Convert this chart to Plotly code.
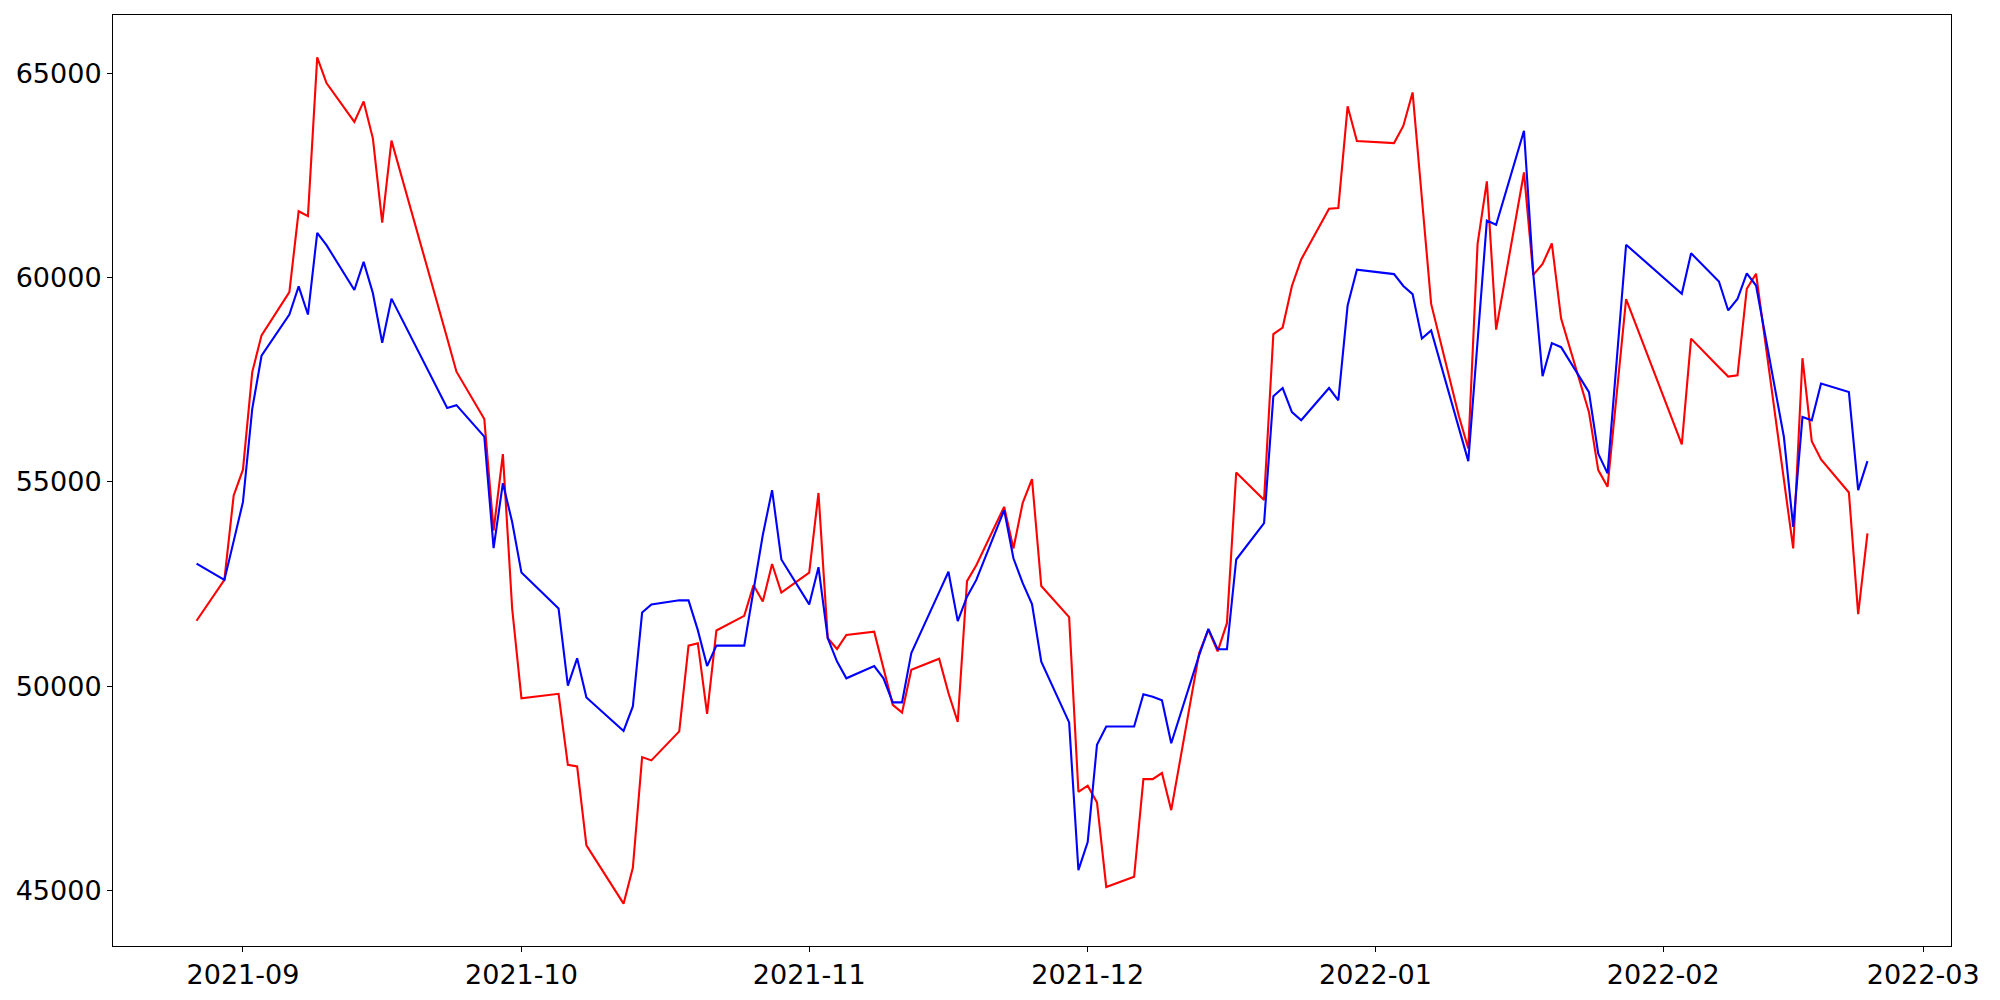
import plotly.graph_objects as go
import pandas as pd

dates = [
    "2021-08-27", "2021-08-30", "2021-08-31",
    "2021-09-01", "2021-09-02", "2021-09-03", "2021-09-06", "2021-09-07", "2021-09-08", "2021-09-09",
    "2021-09-10", "2021-09-13", "2021-09-14", "2021-09-15", "2021-09-16", "2021-09-17", "2021-09-23",
    "2021-09-24", "2021-09-27", "2021-09-28", "2021-09-29", "2021-09-30",
    "2021-10-01", "2021-10-05", "2021-10-06", "2021-10-07", "2021-10-08", "2021-10-12", "2021-10-13",
    "2021-10-14", "2021-10-15", "2021-10-18", "2021-10-19", "2021-10-20", "2021-10-21", "2021-10-22",
    "2021-10-25", "2021-10-26", "2021-10-27", "2021-10-28", "2021-10-29",
    "2021-11-01", "2021-11-02", "2021-11-03", "2021-11-04", "2021-11-05", "2021-11-08", "2021-11-09",
    "2021-11-10", "2021-11-11", "2021-11-12", "2021-11-15", "2021-11-16", "2021-11-17", "2021-11-18",
    "2021-11-19", "2021-11-22", "2021-11-23", "2021-11-24", "2021-11-25", "2021-11-26", "2021-11-29",
    "2021-11-30",
    "2021-12-01", "2021-12-02", "2021-12-03", "2021-12-06", "2021-12-07", "2021-12-08", "2021-12-09",
    "2021-12-10", "2021-12-13", "2021-12-14", "2021-12-15", "2021-12-16", "2021-12-17", "2021-12-20",
    "2021-12-21", "2021-12-22", "2021-12-23", "2021-12-24", "2021-12-27", "2021-12-28", "2021-12-29",
    "2021-12-30",
    "2022-01-03", "2022-01-04", "2022-01-05", "2022-01-06", "2022-01-07", "2022-01-10", "2022-01-11",
    "2022-01-12", "2022-01-13", "2022-01-14", "2022-01-17", "2022-01-18", "2022-01-19", "2022-01-20",
    "2022-01-21", "2022-01-24", "2022-01-25", "2022-01-26", "2022-01-27", "2022-01-28",
    "2022-02-03", "2022-02-04", "2022-02-07", "2022-02-08", "2022-02-09", "2022-02-10", "2022-02-11",
    "2022-02-14", "2022-02-15", "2022-02-16", "2022-02-17", "2022-02-18", "2022-02-21", "2022-02-22",
    "2022-02-23",
]

red_values = [
    51600, 52600, 54670,
    55300, 57690, 58590, 59650, 61630, 61510, 65400,
    64770, 63820, 64320, 63410, 61350, 63360, 58520,
    57700, 56540, 53810, 55680, 51900,
    49700, 49810, 48070, 48030, 46100, 44670, 45550,
    48260, 48180, 48890, 50990, 51050, 49320, 51360,
    51720, 52470, 52070, 52990, 52290,
    52780, 54730, 51170, 50910, 51250, 51330, 50450,
    49540, 49350, 50400, 50670, 49830, 49120, 52570,
    52960, 54390, 53370, 54490, 55070, 52450, 51690,
    47410,
    47560, 47150, 45080, 45330, 47720, 47720, 47870,
    46960, 50800, 51380, 50850, 51540, 55230, 54560,
    58620, 58780, 59800, 60450, 61690, 61710, 64200,
    63350,
    63300, 63720, 64540, 61950, 59360, 56600, 55820,
    60830, 62360, 58730, 62580, 60070, 60340, 60840,
    59000, 56710, 55290, 54880, 57200, 59480,
    55920, 58510, 57810, 57580, 57610, 59730, 60100,
    54970, 53370, 58030, 56000, 55550, 54740, 51760,
    53740,
]

blue_values = [
    53000, 52600, 53550,
    54510, 56790, 58090, 59100, 59790, 59100, 61100,
    60800, 59700, 60390, 59620, 58410, 59490, 56810,
    56880, 56110, 53380, 54970, 54020,
    52780, 51900, 50010, 50680, 49720, 48900, 49500,
    51800, 52000, 52100, 52100, 51370, 50490, 50990,
    50990, 52400, 53700, 54800, 53100,
    52000, 52910, 51170, 50600, 50190, 50490, 50190,
    49600, 49600, 50810, 52300, 52800, 51590, 52190,
    52600, 54310, 53130, 52520, 52010, 50600, 49110,
    45490,
    46180, 48560, 49010, 49010, 49800, 49740, 49650,
    48600, 50750, 51400, 50900, 50900, 53100, 53990,
    57100, 57300, 56710, 56510, 57300, 57000, 59320,
    60200,
    60090, 59800, 59600, 58510, 58710, 56350, 55510,
    58450, 61400, 61300, 63600, 60100, 57590, 58400,
    58300, 57200, 55690, 55210, 58000, 60810,
    59610, 60600, 59910, 59200, 59480, 60110, 59810,
    56100, 53900, 56590, 56510, 57410, 57200, 54800,
    55510,
]

y_ticks = [45000, 50000, 55000, 60000, 65000]

x = pd.to_datetime(dates)

fig = go.Figure()
fig.add_trace(go.Scatter(x=x, y=red_values, mode="lines",
                         line=dict(color="#ff0000", width=2.1), showlegend=False))
fig.add_trace(go.Scatter(x=x, y=blue_values, mode="lines",
                         line=dict(color="#0000ff", width=2.1), showlegend=False))

# matplotlib-style 5% margins
span = x.max() - x.min()
x_range = [x.min() - span * 0.05, x.max() + span * 0.05]
all_vals = red_values + blue_values
vmin, vmax = min(all_vals), max(all_vals)
vspan = vmax - vmin
y_range = [vmin - 0.05 * vspan, vmax + 0.05 * vspan]

font = dict(family="DejaVu Sans", size=27, color="black")

# page body has an 8px default margin, so the figure is sized/offset to compensate
fig.update_layout(
    width=1992, height=992,
    margin=dict(l=105, r=49, t=7, b=54),
    plot_bgcolor="white", paper_bgcolor="white",
    font=font,
)
fig.update_xaxes(
    range=x_range, type="date", automargin=False,
    tick0="2021-09-01", dtick="M1", tickformat="%Y-%m",
    showgrid=False, zeroline=False,
    showline=True, linecolor="black", linewidth=1, mirror=True,
    ticks="outside", ticklen=5, tickwidth=1, tickcolor="black",
    tickfont=font,
)
fig.update_yaxes(
    range=y_range, tickvals=y_ticks, ticktext=[str(v) for v in y_ticks],
    automargin=False,
    showgrid=False, zeroline=False,
    showline=True, linecolor="black", linewidth=1, mirror=True,
    ticks="outside", ticklen=5, tickwidth=1, tickcolor="black",
    tickfont=font,
)

fig.write_html("out.html")
